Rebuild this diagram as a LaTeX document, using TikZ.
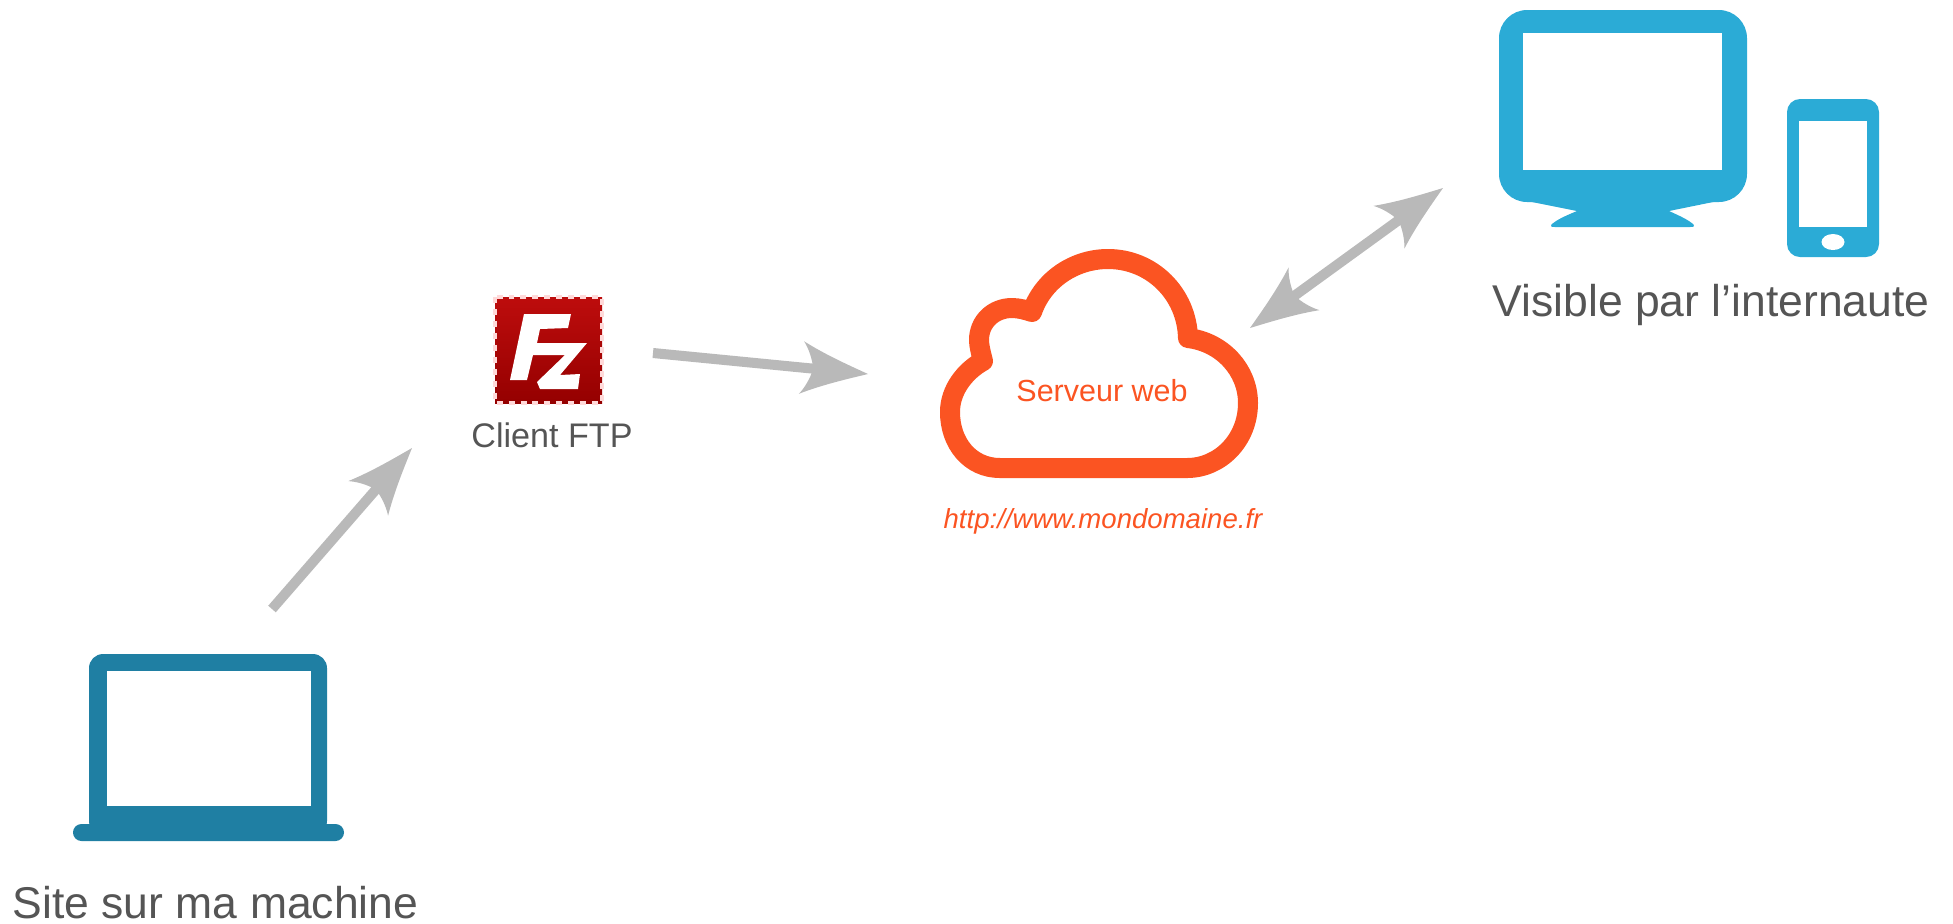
\documentclass[tikz,border=0pt]{standalone}
\usepackage{fontspec}
\setmainfont{Liberation Sans}
\usetikzlibrary{arrows.meta}

\definecolor{laptopblue}{HTML}{1F7FA3}
\definecolor{screenblue}{HTML}{2BABD6}
\definecolor{cloudorange}{HTML}{FB5422}
\definecolor{arrowgray}{HTML}{B9B9B9}
\definecolor{textgray}{HTML}{555555}
\definecolor{fzred}{HTML}{BA0000}

% Head with hollow sides
\pgfdeclarearrow{
    name=FlowTip,
    setup code={
        \pgfarrowssettipend{19pt}
        \pgfarrowssetlineend{5pt}
        \pgfarrowshullpoint{19pt}{0pt}
        \pgfarrowshullpoint{0pt}{7.5pt}
        \pgfarrowshullpoint{0pt}{-7.5pt}
    },
    drawing code={
        \pgfpathmoveto{\pgfpoint{19pt}{0pt}}
        \pgfpathcurveto{\pgfpoint{12pt}{2.4pt}}{\pgfpoint{6pt}{4.5pt}}{\pgfpoint{0pt}{7.5pt}}
        \pgfpathcurveto{\pgfpoint{1.2pt}{6pt}}{\pgfpoint{2.4pt}{3.6pt}}{\pgfpoint{3pt}{1.4pt}}
        \pgfpathlineto{\pgfpoint{3pt}{-1.4pt}}
        \pgfpathcurveto{\pgfpoint{2.4pt}{-3.6pt}}{\pgfpoint{1.2pt}{-6pt}}{\pgfpoint{0pt}{-7.5pt}}
        \pgfpathcurveto{\pgfpoint{6pt}{-4.5pt}}{\pgfpoint{12pt}{-2.4pt}}{\pgfpoint{19pt}{0pt}}
        \pgfpathclose
        \pgfusepathqfill
    }
}

\tikzset{
    caption/.style={anchor=base, text=textgray, font=\fontsize{12.65}{15}\selectfont},
    flow/.style={draw=arrowgray, line width=2.85pt}
}

\begin{document}
\begin{tikzpicture}[x=0.01cm, y=-0.01cm]
    \useasboundingbox (0,0) rectangle (1953,923);

    % Laptop
    \fill[laptopblue, rounded corners=4pt] (89,835) -- (89,654) -- (327,654) -- (327,835) -- cycle;
    \fill[white] (107,671) rectangle (311,806);
    \fill[laptopblue, rounded corners=2.4pt] (73,824) rectangle (344,841);
    \node[caption] (site) at (215.5,918) {Site sur ma machine};

    % FileZilla icon
    \shade[top color=fzred!95!white, bottom color=fzred!80!black] (495,297) rectangle (602,403);
    \draw[red!15!white, line width=1.3pt, dash pattern=on 1.7pt off 1.7pt] (495,297) rectangle (602,403);
    \fill[white] (524,314) -- (571,314) -- (568,328) -- (540,329) -- (537,343) -- (587,343)
        -- (560,375) -- (580,374) -- (578,389) -- (540,389) -- (537,382) -- (565,355)
        -- (533,355) -- (527,380) -- (510,380) -- cycle;
    \node[caption, font=\fontsize{9.7}{12}\selectfont] (ftp) at (552,447) {Client FTP};

    % Cloud
    \draw[cloudorange, line width=5.69pt, line join=round] (1000,468)
        .. controls (970,468) and (950,443) .. (950,412)
        .. controls (950,390) and (965,371) .. (983,361)
        .. controls (981,353) and (979,346) .. (979,340)
        .. controls (979,322) and (993,308) .. (1012,308)
        .. controls (1019,308) and (1026,310) .. (1032,312)
        .. controls (1043,280) and (1074,259) .. (1108,259)
        .. controls (1152,259) and (1187,294) .. (1188,338)
        .. controls (1222,342) and (1248,370) .. (1248,403)
        .. controls (1248,440) and (1220,468) .. (1187,468) -- cycle;
    \node[caption, text=cloudorange, font=\fontsize{8.67}{11}\selectfont] (server) at (1102,401) {Serveur web};
    \node[caption, text=cloudorange, font=\fontsize{7.84}{10}\selectfont\itshape] (url) at (1103,528) {http://www.mondomaine.fr};

    % Monitor
    \fill[screenblue, rounded corners=8pt] (1499,10) rectangle (1747,202);
    \fill[screenblue] (1522,200) -- (1577,211) .. controls (1565,216) and (1556,220) .. (1551,225)
        .. controls (1551,227) .. (1556,227) -- (1689,227) .. controls (1694,227) .. (1694,225)
        .. controls (1689,220) and (1680,216) .. (1669,211) -- (1723,200) -- cycle;
    \fill[white] (1523,33) rectangle (1722,170);

    % Phone
    \fill[screenblue, rounded corners=3.7pt] (1787,99) rectangle (1879,257);
    \fill[white] (1799,121) rectangle (1867,227);
    \fill[white] (1833,242) ellipse [x radius=11.5, y radius=8];
    \node[caption] (visitor) at (1711,316) {Visible par l’internaute};

    % Arrow ends
    \coordinate (laptopout) at (272,609);
    \coordinate (ftpin) at (412,448);
    \coordinate (ftpout) at (653,353);
    \coordinate (serverin) at (868,374);
    \coordinate (serverlink) at (1250,328);
    \coordinate (visitorlink) at (1443,188);

    \draw[flow, -FlowTip] (laptopout) -- (ftpin);
    \draw[flow, -FlowTip] (ftpout) -- (serverin);
    \draw[flow, FlowTip-FlowTip] (serverlink) -- (visitorlink);
\end{tikzpicture}
\end{document}
